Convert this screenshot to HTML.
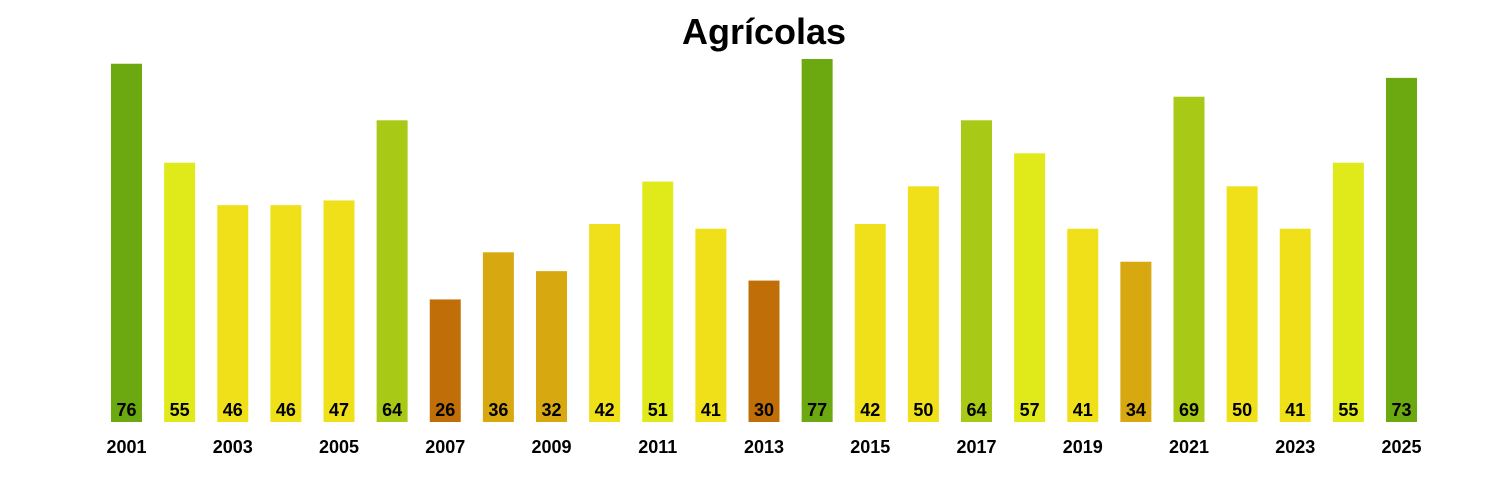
<!DOCTYPE html>
<html><head><meta charset="utf-8"><style>
html,body{margin:0;padding:0;background:#fff;}
svg{display:block;font-family:"Liberation Sans",Arial,sans-serif;font-weight:bold;}
</style></head><body>
<svg width="1500" height="500" xmlns="http://www.w3.org/2000/svg">
<rect width="1500" height="500" fill="#fff"/>
<text x="764" y="44" font-size="36" text-anchor="middle">Agrícolas</text>
<g id="bars"></g>
</svg>
<script>
var v=[76,55,46,46,47,64,26,36,32,42,51,41,30,77,42,50,64,57,41,34,69,50,41,55,73];
function col(x){if(x>=70)return"#6ca80f";if(x>=60)return"#a8c916";if(x>=51)return"#e0ea1a";if(x>=38)return"#f0e01a";if(x>=31)return"#d7a80f";return"#c06e08";}
var g=document.getElementById("bars"),s="";
for(var i=0;i<v.length;i++){
 var x=111+i*53.125,h=v[i]*4.714,cx=x+15.5;
 s+='<rect x="'+x+'" y="'+(422-h)+'" width="31" height="'+h+'" fill="'+col(v[i])+'"/>';
 s+='<text x="'+cx+'" y="416" font-size="18" text-anchor="middle">'+v[i]+'</text>';
 if(i%2==0)s+='<text x="'+cx+'" y="453" font-size="18" text-anchor="middle">'+(2001+i)+'</text>';
}
g.innerHTML=s;
</script>
</body></html>
